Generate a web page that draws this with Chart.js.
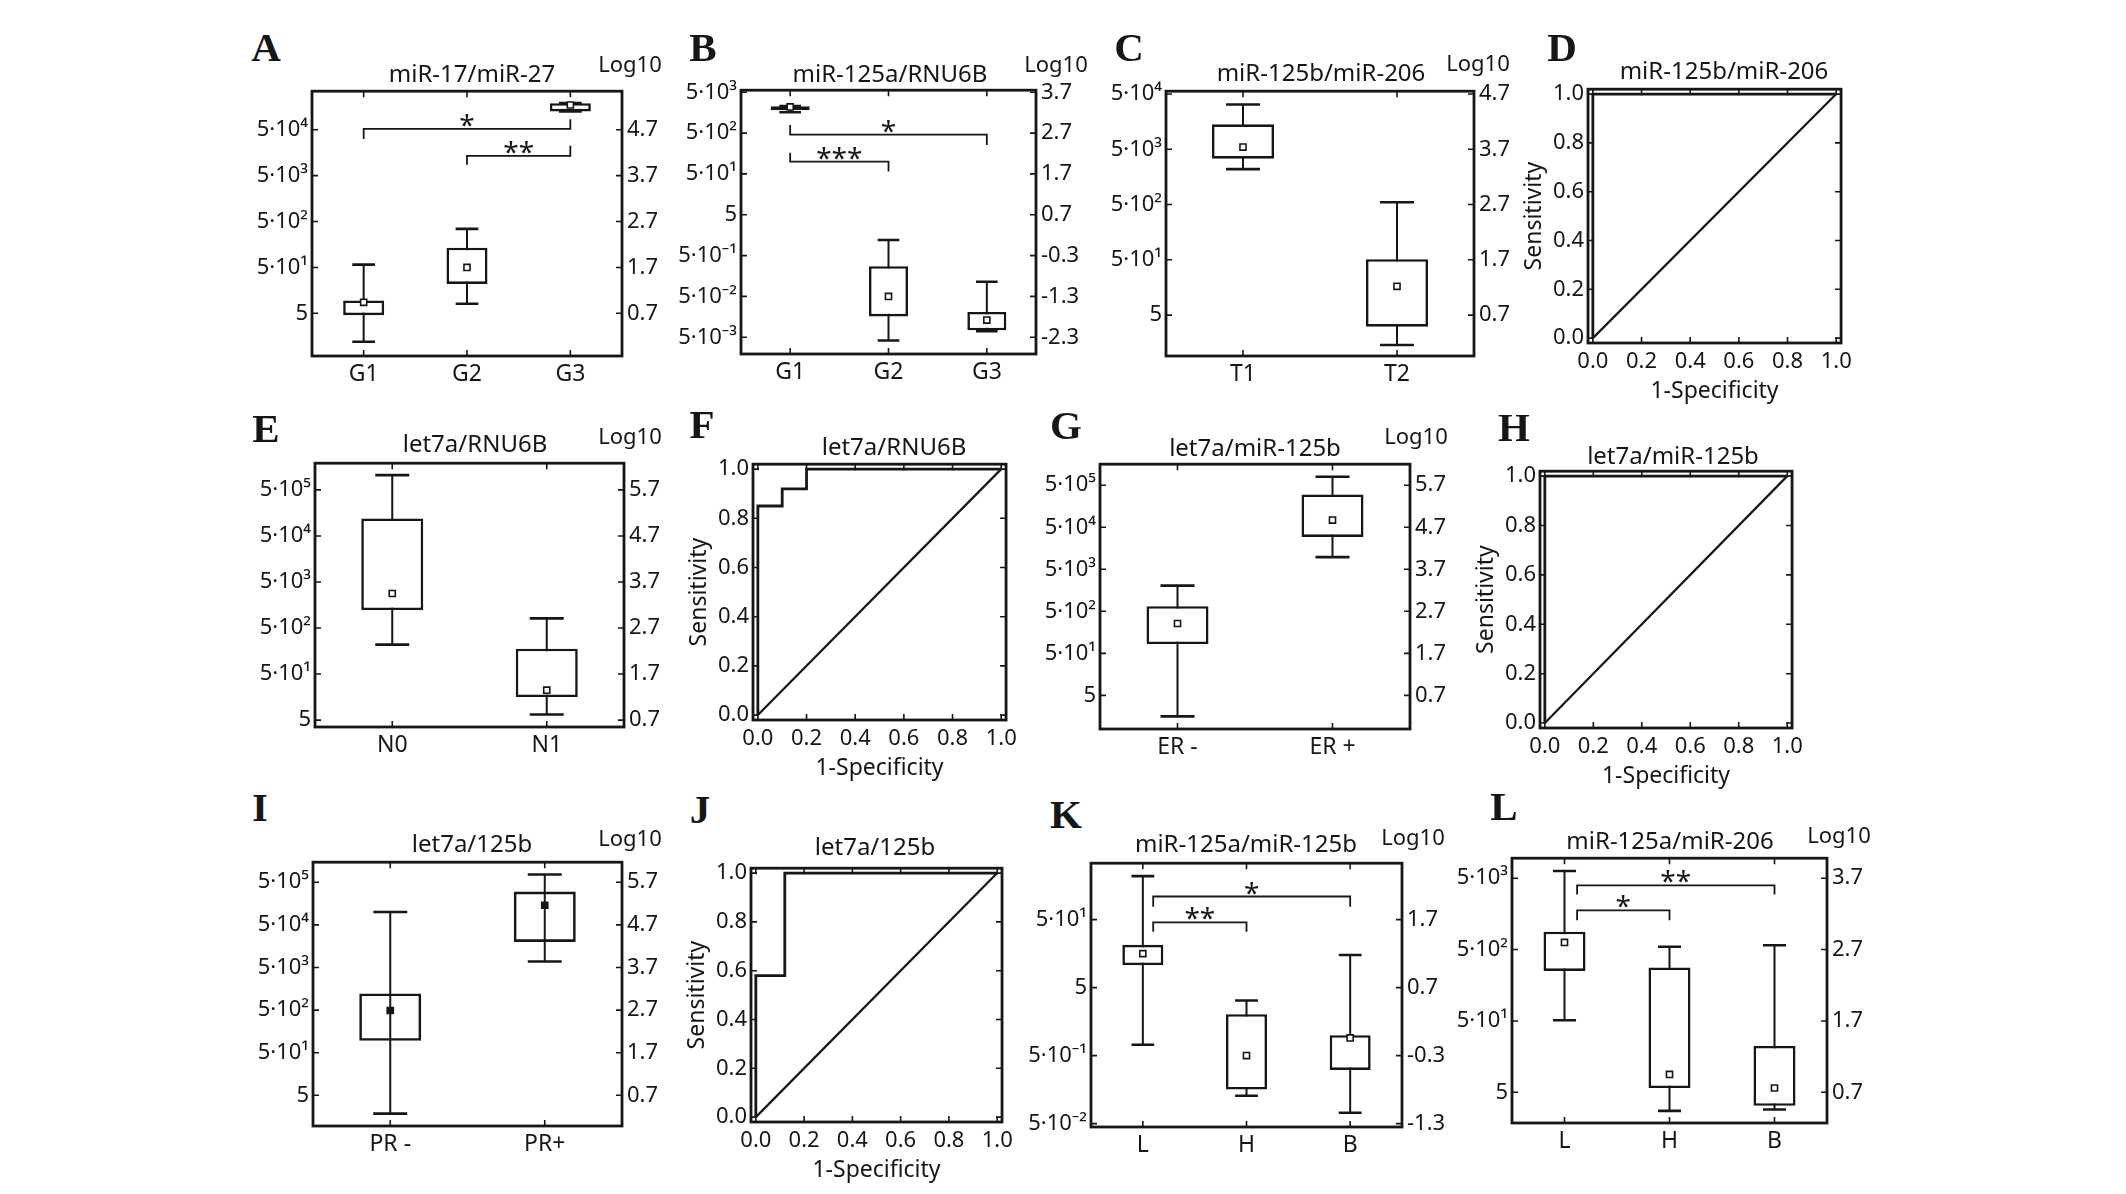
<!DOCTYPE html>
<html>
<head>
<meta charset="utf-8">
<script src="https://cdn.jsdelivr.net/npm/chart.js@4.4.1/dist/chart.umd.min.js"></script>
<style>
  html, body { margin: 0; padding: 0; background: #fff; }
  #page { position: relative; width: 2126px; height: 1194px; overflow: hidden; background: #fff; }
  canvas { position: absolute; }
  .txt { position: absolute; transform: translate(-50%, -50%); white-space: nowrap; line-height: 1;
         color: #161616; font-family: 'Noto Sans', 'DejaVu Sans', sans-serif; }
  .letter { font-family: 'Liberation Serif', 'DejaVu Serif', serif; font-weight: bold; font-size: 41px; }
  .title { font-size: 24px; }
  .log { font-size: 22px; }
</style>
</head>
<body>
<div id="page"></div>
<script>
// values are log10 of the ratio (right axis of each box plot)

// A  miR-17/miR-27
const catsA = ['G1', 'G2', 'G3'];
const loA   = [0.08, 0.91, 5.10];
const q1A   = [0.66, 1.34, 5.10];
const q3A   = [0.98, 2.13, 5.28];
const hiA   = [1.76, 2.54, 5.28];
const meanA = [0.94, 1.70, 5.24];
const ticksA = [0.7, 1.7, 2.7, 3.7, 4.7];
const rangeA = [-0.23, 5.54];
const sigA = [[1, 3, 4.72, 4.50, 4.93, '*'], [2, 3, 4.13, 3.94, 4.35, '**']];

// B  miR-125a/RNU6B
const catsB = ['G1', 'G2', 'G3'];
const loB   = [3.21, -2.38, -2.15];
const q1B   = [3.26, -1.79, -2.13];
const q3B   = [3.36, -0.56, -1.68];
const hiB   = [3.36, 0.08, -0.94];
const meanB = [3.34, -1.30, -1.88];
const ticksB = [-2.3, -1.3, -0.3, 0.7, 1.7, 2.7, 3.7];
const rangeB = [-2.71, 3.75];
const sigB = [[1, 3, 2.66, 2.90, 2.41, '*'], [1, 2, 2.00, 2.22, 1.76, '***']];

// C  miR-125b/miR-206
const catsC = ['T1', 'T2'];
const loC   = [3.34, 0.16];
const q1C   = [3.53, 0.49];
const q3C   = [4.15, 1.71];
const hiC   = [4.51, 2.74];
const meanC = [3.74, 1.22];
const ticksC = [0.7, 1.7, 2.7, 3.7, 4.7];
const rangeC = [-0.04, 4.75];

// E  let7a/RNU6B
const catsE = ['N0', 'N1'];
const loE   = [2.34, 0.82];
const q1E   = [3.09, 1.20];
const q3E   = [5.08, 2.25];
const hiE   = [6.02, 2.91];
const meanE = [3.45, 1.35];
const ticksE = [0.7, 1.7, 2.7, 3.7, 4.7, 5.7];
const rangeE = [0.55, 6.28];

// G  let7a/miR-125b
const catsG = ['ER -', 'ER +'];
const loG   = [0.20, 3.99];
const q1G   = [1.92, 4.47];
const q3G   = [2.82, 5.48];
const hiG   = [3.31, 5.90];
const meanG = [2.41, 4.87];
const ticksG = [0.7, 1.7, 2.7, 3.7, 4.7, 5.7];
const rangeG = [-0.10, 6.20];

// I  let7a/125b
const catsI = ['PR -', 'PR+'];
const loI   = [0.27, 3.84];
const q1I   = [1.98, 4.30];
const q3I   = [3.09, 5.48];
const hiI   = [5.00, 5.88];
const meanI = [2.69, 5.16];
const ticksI = [0.7, 1.7, 2.7, 3.7, 4.7, 5.7];
const rangeI = [-0.02, 6.17];

// K  miR-125a/miR-125b
const catsK = ['L', 'H', 'B'];
const loK   = [-0.14, -0.89, -1.14];
const q1K   = [1.03, -0.80, -0.51];
const q3K   = [1.33, 0.31, 0.00];
const hiK   = [2.34, 0.51, 1.18];
const meanK = [1.20, -0.30, -0.04];
const ticksK = [-1.3, -0.3, 0.7, 1.7];
const rangeK = [-1.35, 2.53];
const sigK = [[1.1, 3, 2.04, 1.89, 1.89, '*'], [1.1, 2, 1.66, 1.52, 1.52, '**']];

// L  miR-125a/miR-206
const catsL = ['L', 'H', 'B'];
const loL   = [1.71, 0.44, 0.46];
const q1L   = [2.40, 0.76, 0.51];
const q3L   = [2.95, 2.45, 1.35];
const hiL   = [3.80, 2.74, 2.76];
const meanL = [2.80, 0.95, 0.76];
const ticksL = [0.7, 1.7, 2.7, 3.7];
const rangeL = [0.27, 3.98];
const sigL = [[1.12, 3, 3.60, 3.47, 3.47, '**'], [1.12, 2, 3.25, 3.11, 3.11, '*']];

// ROC curves (1-specificity, sensitivity)
const rocDx = [0, 0, 1];
const rocDy = [0, 1, 1];
const rocFx = [0, 0, 0.1, 0.1, 0.2, 0.2, 1];
const rocFy = [0, 0.85, 0.85, 0.92, 0.92, 1, 1];
const rocHx = [0, 0, 1];
const rocHy = [0, 1, 1];
const rocJx = [0, 0, 0.12, 0.12, 1];
const rocJy = [0, 0.58, 0.58, 1, 1];
const diagX = [0, 1];
const diagY = [0, 1];
const rocTicks = [0, 0.2, 0.4, 0.6, 0.8, 1.0];
const rocRange = [-0.02, 1.02];

// panel layout in page pixels: frame = [left, top, right, bottom]
const layout = {
  A: { frame: [312, 89, 622, 356],   letter: [266, 47],  title: [472, 73],  log: [630, 63],  text: 'miR-17/miR-27' },
  B: { frame: [741, 88, 1036, 354],  letter: [703, 47],  title: [890, 73],  log: [1056, 63], text: 'miR-125a/RNU6B' },
  C: { frame: [1166, 89, 1474, 356], letter: [1129, 47], title: [1321, 72], log: [1478, 62], text: 'miR-125b/miR-206' },
  D: { frame: [1588, 88, 1844, 343], letter: [1562, 47], title: [1724, 70], text: 'miR-125b/miR-206' },
  E: { frame: [315, 461, 624, 727],  letter: [266, 428], title: [475, 443], log: [630, 435], text: 'let7a/RNU6B' },
  F: { frame: [753, 463, 1009, 720], letter: [702, 424], title: [894, 446], text: 'let7a/RNU6B' },
  G: { frame: [1100, 462, 1410, 729], letter: [1066, 425], title: [1255, 447], log: [1416, 435], text: 'let7a/miR-125b' },
  H: { frame: [1540, 470, 1795, 728], letter: [1514, 427], title: [1673, 455], text: 'let7a/miR-125b' },
  I: { frame: [313, 860, 622, 1126], letter: [260, 807], title: [472, 843], log: [630, 837], text: 'let7a/125b' },
  J: { frame: [751, 867, 1005, 1122], letter: [700, 809], title: [875, 846], text: 'let7a/125b' },
  K: { frame: [1091, 861, 1402, 1127], letter: [1066, 814], title: [1246, 843], log: [1413, 836], text: 'miR-125a/miR-125b' },
  L: { frame: [1512, 856, 1827, 1123], letter: [1504, 806], title: [1670, 840], log: [1839, 834], text: 'miR-125a/miR-206' }
};

const INK = '#161616';
const FONT = "'Noto Sans', 'DejaVu Sans', sans-serif";
Chart.defaults.font.family = FONT;
Chart.defaults.font.size = 22;
Chart.defaults.color = INK;

const page = document.getElementById('page');

function addText(cls, pos, str) {
  const d = document.createElement('div');
  d.className = 'txt ' + cls;
  d.style.left = pos[0] + 'px';
  d.style.top = pos[1] + 'px';
  d.textContent = str;
  page.appendChild(d);
}

function addCanvas(x, y, w, h) {
  const c = document.createElement('canvas');
  c.width = w; c.height = h;
  c.style.left = x + 'px'; c.style.top = y + 'px';
  c.style.width = w + 'px'; c.style.height = h + 'px';
  page.appendChild(c);
  return c;
}

function panelText(key) {
  const p = layout[key];
  addText('letter', p.letter, key);
  addText('title', p.title, p.text);
  if (p.log) addText('log', p.log, 'Log10');
}

// 5·10ⁿ labels for the left axis
const SUP = { '-': '⁻', '0': '⁰', '1': '¹', '2': '²', '3': '³', '4': '⁴', '5': '⁵', '6': '⁶' };
function powLabel(v) {
  const n = Math.round(v - 0.7);
  if (n === 0) return '5';
  return '5·10' + String(n).split('').map(c => SUP[c]).join('');
}

// frame, inward tick marks and significance stars
function framePlugin(sig) {
  return {
    id: 'frame',
    afterDatasetsDraw(chart) {
      const { ctx, chartArea: a, scales } = chart;
      const t = 6;
      ctx.save();
      ctx.strokeStyle = INK;
      ctx.lineWidth = 1.6;
      ctx.beginPath();
      scales.x.ticks.forEach(tk => {
        const px = scales.x.getPixelForValue(tk.value);
        ctx.moveTo(px, a.bottom); ctx.lineTo(px, a.bottom - t);
        ctx.moveTo(px, a.top); ctx.lineTo(px, a.top + t);
      });
      scales.y.ticks.forEach(tk => {
        const py = scales.y.getPixelForValue(tk.value);
        ctx.moveTo(a.left, py); ctx.lineTo(a.left + t, py);
        if (!scales.y2) { ctx.moveTo(a.right, py); ctx.lineTo(a.right - t, py); }
      });
      if (scales.y2) {
        scales.y2.ticks.forEach(tk => {
          const py = scales.y2.getPixelForValue(tk.value);
          ctx.moveTo(a.right, py); ctx.lineTo(a.right - t, py);
        });
      }
      ctx.stroke();
      ctx.lineWidth = 2.8;
      ctx.strokeRect(a.left, a.top, a.right - a.left, a.bottom - a.top);

      ctx.fillStyle = INK;
      ctx.font = '28px ' + FONT;
      ctx.textAlign = 'center';
      ctx.textBaseline = 'alphabetic';
      (sig || []).forEach(s => {
        const xm = scales.x.getPixelForValue((s[0] + s[1]) / 2);
        const yl = scales.y.getPixelForValue(s[2]);
        ctx.fillText(s[5], xm, yl + 6);
      });
      ctx.restore();
    }
  };
}

function boxChart(key, cats, lo, q1, q3, hi, mean, ticks, range, sig, look) {
  look = look || {};
  const p = layout[key];
  const W = p.frame[2] - p.frame[0], H = p.frame[3] - p.frame[1];
  const padL = 100, padR = 62, padT = 16, padB = 44;
  const canvas = addCanvas(p.frame[0] - padL, p.frame[1] - padT, W + padL + padR, H + padT + padB);
  const unit = W / cats.length;
  const xs = cats.map((c, i) => i + 1);

  const datasets = [
    { type: 'bar', data: xs.map((x, i) => ({ x, y: [lo[i], hi[i]] })),
      backgroundColor: INK, barThickness: 2, grouped: false, inflateAmount: 0, order: 5 },
    { type: 'bar', data: xs.map((x, i) => ({ x, y: [q1[i], q3[i]] })),
      backgroundColor: look.boxFill || '#fff', borderColor: INK, borderWidth: 2.6, borderSkipped: false,
      barThickness: Math.round(unit * 0.4), grouped: false, inflateAmount: 0, order: 4 },
    { type: 'line', data: xs.flatMap((x, i) => [{ x, y: hi[i] }, { x, y: lo[i] }]), showLine: false,
      pointStyle: 'line', pointRadius: unit * 0.11, pointBorderWidth: 2.6,
      borderColor: INK, pointBorderColor: INK, order: 3 },
    { type: 'line', data: xs.map((x, i) => ({ x, y: mean[i] })), showLine: false,
      pointStyle: 'rect', pointRadius: 4.3, pointBorderWidth: 1.6,
      pointBackgroundColor: look.meanFill || '#fff', pointBorderColor: INK, order: 1 }
  ];
  (sig || []).forEach(s => {
    datasets.push({ type: 'line',
      data: [{ x: s[0], y: s[3] }, { x: s[0], y: s[2] }, { x: s[1], y: s[2] }, { x: s[1], y: s[4] }],
      borderColor: INK, borderWidth: 1.8, pointRadius: 0, tension: 0, order: 2 });
  });

  const yBase = {
    type: 'linear', min: range[0], max: range[1], beginAtZero: false,
    grid: { display: false, drawTicks: false }, border: { display: false }
  };

  new Chart(canvas, {
    type: 'bar',
    data: { datasets },
    options: {
      responsive: false, animation: false, events: [],
      layout: { padding: { top: padT, left: 0, right: 0, bottom: 0 }, autoPadding: false },
      plugins: { legend: { display: false }, tooltip: { enabled: false } },
      scales: {
        x: {
          type: 'linear', min: 0.5, max: cats.length + 0.5, offset: false,
          grid: { display: false, drawTicks: false }, border: { display: false },
          afterBuildTicks: s => { s.ticks = xs.map(v => ({ value: v })); },
          ticks: { callback: v => cats[Math.round(v) - 1], padding: 5, maxRotation: 0, autoSkip: false, font: { size: 23 } },
          afterFit: s => { s.height = padB; }
        },
        y: Object.assign({}, yBase, {
          position: 'left',
          afterBuildTicks: s => { s.ticks = ticks.map(v => ({ value: v })); },
          ticks: { callback: v => powLabel(v), padding: 4, autoSkip: false },
          afterFit: s => { s.width = padL; }
        }),
        y2: Object.assign({}, yBase, {
          position: 'right',
          afterBuildTicks: s => { s.ticks = ticks.map(v => ({ value: v })); },
          ticks: { callback: v => v.toFixed(1), padding: 5, autoSkip: false },
          afterFit: s => { s.width = padR; }
        })
      }
    },
    plugins: [framePlugin(sig)]
  });
  panelText(key);
}

function rocChart(key, rx, ry) {
  const p = layout[key];
  const W = p.frame[2] - p.frame[0], H = p.frame[3] - p.frame[1];
  const padL = 70, padR = 14, padT = 16, padB = 65;
  const canvas = addCanvas(p.frame[0] - padL, p.frame[1] - padT, W + padL + padR, H + padT + padB);

  const axis = (title, pad, fit) => ({
    type: 'linear', min: rocRange[0], max: rocRange[1],
    grid: { display: false, drawTicks: false }, border: { display: false },
    afterBuildTicks: s => { s.ticks = rocTicks.map(v => ({ value: v })); },
    ticks: { callback: v => v.toFixed(1), padding: pad, maxRotation: 0, autoSkip: false, font: { size: 22 } },
    title: { display: true, text: title, font: { size: 23 }, color: INK, padding: { top: 3, bottom: 3 } },
    afterFit: fit
  });

  new Chart(canvas, {
    type: 'line',
    data: {
      datasets: [
        { data: rx.map((x, i) => ({ x, y: ry[i] })), borderColor: INK, borderWidth: 2.8, pointRadius: 0, tension: 0 },
        { data: diagX.map((x, i) => ({ x, y: diagY[i] })), borderColor: INK, borderWidth: 2.2, pointRadius: 0, tension: 0 }
      ]
    },
    options: {
      responsive: false, animation: false, events: [],
      layout: { padding: { top: padT, left: 0, right: padR, bottom: 0 }, autoPadding: false },
      plugins: { legend: { display: false }, tooltip: { enabled: false } },
      scales: {
        x: axis('1-Specificity', 6, s => { s.height = padB; }),
        y: axis('Sensitivity', 4, s => { s.width = padL; })
      }
    },
    plugins: [framePlugin(null)]
  });
  panelText(key);
}

boxChart('A', catsA, loA, q1A, q3A, hiA, meanA, ticksA, rangeA, sigA);
boxChart('B', catsB, loB, q1B, q3B, hiB, meanB, ticksB, rangeB, sigB);
boxChart('C', catsC, loC, q1C, q3C, hiC, meanC, ticksC, rangeC, null);
rocChart('D', rocDx, rocDy);
boxChart('E', catsE, loE, q1E, q3E, hiE, meanE, ticksE, rangeE, null);
rocChart('F', rocFx, rocFy);
boxChart('G', catsG, loG, q1G, q3G, hiG, meanG, ticksG, rangeG, null);
rocChart('H', rocHx, rocHy);
boxChart('I', catsI, loI, q1I, q3I, hiI, meanI, ticksI, rangeI, null, { boxFill: 'rgba(0,0,0,0)', meanFill: INK });
rocChart('J', rocJx, rocJy);
boxChart('K', catsK, loK, q1K, q3K, hiK, meanK, ticksK, rangeK, sigK);
boxChart('L', catsL, loL, q1L, q3L, hiL, meanL, ticksL, rangeL, sigL);
</script>
</body>
</html>
